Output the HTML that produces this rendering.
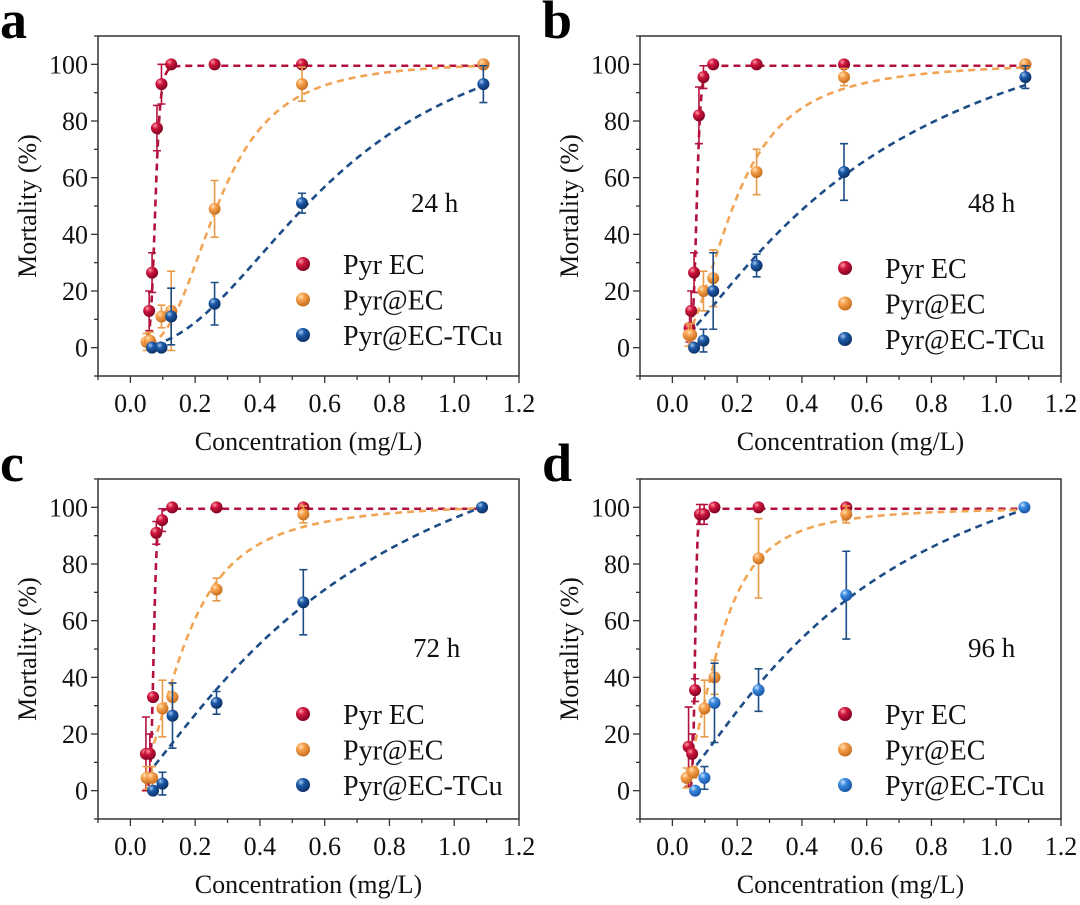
<!DOCTYPE html>
<html><head><meta charset="utf-8">
<style>
html,body{margin:0;padding:0;background:#fff;}
svg{display:block;}
svg text{font-family:"Times New Roman","Liberation Serif","DejaVu Serif","Noto Serif CJK SC",serif;}
</style></head>
<body>
<svg id="fig" width="1080" height="905" viewBox="0 0 1080 905" xmlns="http://www.w3.org/2000/svg">
<defs>
<radialGradient id="g-red" cx="0.35" cy="0.3" r="0.75"><stop offset="0" stop-color="#ff9aa8"/><stop offset="0.35" stop-color="#d0163e"/><stop offset="1" stop-color="#7a0020"/></radialGradient>
<radialGradient id="g-orange" cx="0.35" cy="0.3" r="0.75"><stop offset="0" stop-color="#ffe2b8"/><stop offset="0.35" stop-color="#f7a04c"/><stop offset="1" stop-color="#c06a1c"/></radialGradient>
<radialGradient id="g-blue" cx="0.35" cy="0.3" r="0.75"><stop offset="0" stop-color="#a8c8f0"/><stop offset="0.35" stop-color="#1d5aa8"/><stop offset="1" stop-color="#0a2c60"/></radialGradient>
<radialGradient id="g-lblue" cx="0.35" cy="0.3" r="0.75"><stop offset="0" stop-color="#d0e6ff"/><stop offset="0.35" stop-color="#3a8ae0"/><stop offset="1" stop-color="#1450a0"/></radialGradient>
</defs>
</svg>
<script>
// ---- data ----
const xTicks = [0.0,0.2,0.4,0.6,0.8,1.0,1.2];
const xTickLabels = ["0.0","0.2","0.4","0.6","0.8","1.0","1.2"];
const yTicks = [0,20,40,60,80,100];
const yTickLabels = ["0","20","40","60","80","100"];
const seriesNames = ["Pyr EC","Pyr@EC","Pyr@EC-TCu"];
const timeLabels = ["24 h","48 h","72 h","96 h"];
const panelLetters = ["a","b","c","d"];

// panel a (24 h)
const aRedX = [0.058,0.067,0.082,0.096,0.126,0.26,0.53,1.09];
const aRedY = [13,26.5,77.5,93,100,100,100,100];
const aRedE = [7,7,8,7,0,0,0,0];
const aOrgX = [0.05,0.06,0.096,0.126,0.26,0.53,1.09];
const aOrgY = [2,2.5,11,13,49,93,100];
const aOrgE = [3,3,4,14,10,6,0];
const aBluX = [0.067,0.096,0.126,0.26,0.53,1.09];
const aBluY = [0,0,11,15.5,51,93];
const aBluE = [0,0,10,7.5,3.5,6.5];
// panel b (48 h)
const bRedX = [0.053,0.058,0.067,0.082,0.096,0.126,0.26,0.53,1.09];
const bRedY = [7,13,26.5,82,95.5,100,100,100,100];
const bRedE = [5,7,7,10,4,0,0,0,0];
const bOrgX = [0.05,0.058,0.096,0.126,0.26,0.53,1.09];
const bOrgY = [4.5,4.5,20,24.5,62,95.5,100];
const bOrgE = [4,4,7,10,8,3,0];
const bBluX = [0.067,0.096,0.126,0.26,0.53,1.09];
const bBluY = [0,2.5,20,29,62,95.5];
const bBluE = [0,4,13.5,4,10,4];
// panel c (72 h)
const cRedX = [0.048,0.06,0.07,0.08,0.098,0.129,0.266,0.534];
const cRedY = [13,13,33,91,95.5,100,100,100];
const cRedE = [13,7,0,4,4,0,0,0];
const cOrgX = [0.05,0.067,0.099,0.13,0.266,0.534,1.086];
const cOrgY = [4.5,4.5,29,33,71,97.5,100];
const cOrgE = [4,4,10,5,4,3,0];
const cBluX = [0.07,0.099,0.13,0.266,0.534,1.086];
const cBluY = [0,2.5,26.5,31,66.5,100];
const cBluE = [0,4,11.5,4,11.5,0];
// panel d (96 h)
const dRedX = [0.05,0.061,0.07,0.085,0.098,0.13,0.266,0.537];
const dRedY = [15.5,13,35.5,97.5,97.5,100,100,100];
const dRedE = [14,7,4,3.5,3.5,0,0,0];
const dOrgX = [0.044,0.065,0.099,0.13,0.266,0.537];
const dOrgY = [4.5,6.5,29,40,82,97.5];
const dOrgE = [3.5,2,10,6,14,3];
const dBluX = [0.07,0.099,0.13,0.266,0.537,1.087];
const dBluY = [0,4.5,31,35.5,69,100];
const dBluE = [0,4,14,7.5,15.5,0];

// fitted dose-response parameters [EC50, Hill slope, top]
const aFits = [[0.077,10,99.5],[0.27,3,101],[0.63,2.2,120]];
const bFits = [[0.075,12,99.5],[0.19,2.2,101],[0.65,1.3,140]];
const cFits = [[0.072,15,99.5],[0.165,2,102],[0.72,1.25,160]];
const dFits = [[0.07,20,99.5],[0.14,2.3,100],[0.6,1.3,145]];
const fitStart = [0.055,0.062,0.075];

// ---- drawing ----
const NS="http://www.w3.org/2000/svg";
const svg=document.getElementById('fig');
function mk(tag,attrs,parent){const e=document.createElementNS(NS,tag);for(const k in attrs)e.setAttribute(k,attrs[k]);(parent||svg).appendChild(e);return e;}

const panels=[
 {L:98,R:519,T:36,B:376,tx:411,lx:303,ly:264,data:[[aRedX,aRedY,aRedE],[aOrgX,aOrgY,aOrgE],[aBluX,aBluY,aBluE]],fits:aFits,blue:'g-blue'},
 {L:640,R:1061,T:36,B:376,tx:968,lx:845,ly:268,data:[[bRedX,bRedY,bRedE],[bOrgX,bOrgY,bOrgE],[bBluX,bBluY,bBluE]],fits:bFits,blue:'g-blue'},
 {L:98,R:519,T:479,B:819,tx:413,lx:303,ly:714,data:[[cRedX,cRedY,cRedE],[cOrgX,cOrgY,cOrgE],[cBluX,cBluY,cBluE]],fits:cFits,blue:'g-blue'},
 {L:640,R:1061,T:479,B:819,tx:968,lx:845,ly:714,data:[[dRedX,dRedY,dRedE],[dOrgX,dOrgY,dOrgE],[dBluX,dBluY,dBluE]],fits:dFits,blue:'g-lblue'}
];
const lineCols=['#b3123e','#f2a455','#1d4c86'];
const errCols=['#b3123e','#e89a48','#1d4c86'];

panels.forEach((p,pi)=>{
  const g=mk('g',{});
  
  
  const sx=v=>p.L+(v+0.1)/1.3*(p.R-p.L);
  const sy=v=>p.B-(v+10)/120*(p.B-p.T);
  const let_=mk('text',{x:p.L-98,y:p.T+2,'font-size':54,'font-weight':'bold'},g);
  let_.textContent=panelLetters[pi];
  
  
  const fr=mk('rect',{x:p.L,y:p.T,width:p.R-p.L,height:p.B-p.T,fill:'none',stroke:'#333',"stroke-width":1.5},g);
  
  
  for(let v=-10;v<=110;v+=10){
    const major=v%20===0&&v>=0&&v<=100;
    mk('line',{x1:p.L,x2:p.L-(major?7:4),y1:sy(v),y2:sy(v),stroke:'#333','stroke-width':1.3},g);
  }
  yTicks.forEach((v,i)=>{
    const t=mk('text',{x:p.L-10,y:sy(v)+9,'font-size':26,'text-anchor':'end',fill:'#111'},g);
    t.textContent=yTickLabels[i];
    
    
  });
  for(let k=-1;k<=12;k++){
    const v=k/10, major=k>=0&&k%2===0;
    mk('line',{x1:sx(v),x2:sx(v),y1:p.B,y2:p.B+(major?7:4),stroke:'#333','stroke-width':1.3},g);
  }
  xTicks.forEach((v,i)=>{
    const t=mk('text',{x:sx(v),y:p.B+36,'font-size':26,'text-anchor':'middle',fill:'#111'},g);
    t.textContent=xTickLabels[i];
    
    
  });
  const yt=mk('text',{x:0,y:0,'font-size':26,'text-anchor':'middle',fill:'#111',transform:`translate(${p.L-62},${(p.T+p.B)/2}) rotate(-90)`},g);
  yt.textContent='Mortality (%)';
  
  
  const xt=mk('text',{x:(p.L+p.R)/2,y:p.B+74,'font-size':26,'text-anchor':'middle',fill:'#111'},g);
  xt.textContent='Concentration (mg/L)';
  
  
  const tl=mk('text',{x:p.tx,y:(pi<2?212:p.T+178),'font-size':27,fill:'#111'},g);
  tl.textContent=timeLabels[pi];
  
  
  p.fits.forEach((f,si)=>{
    const [ec,h,top]=f;let d='';
    const x0=fitStart[si],x1=1.09;
    for(let i=0;i<=300;i++){
      const x=x0+(x1-x0)*Math.pow(i/300,2.2);
      const y=top/(1+Math.pow(ec/x,h));
      d+=(i?'L':'M')+sx(x).toFixed(2)+','+sy(y).toFixed(2);
    }
    const c=mk('path',{d:d,fill:'none',stroke:lineCols[si],'stroke-width':2.6,'stroke-dasharray':'7 5'},g);
    
    
  });
  const grads=['g-red','g-orange',p.blue];
  p.data.forEach((s,si)=>{
    const [xs,ys,es]=s;
    xs.forEach((x,i)=>{
      const cx=sx(x),cy=sy(ys[i]);
      if(es[i]>0){
        const e1=sy(ys[i]+es[i]),e2=sy(ys[i]-es[i]);
        const eb=mk('path',{d:`M${cx},${e1}V${e2}M${cx-4},${e1}H${cx+4}M${cx-4},${e2}H${cx+4}`,stroke:errCols[si],'stroke-width':1.6,fill:'none'},g);
        
        
      }
      const m=mk('circle',{cx:cx,cy:cy,r:6,fill:`url(#${grads[si]})`},g);
      
      
    });
  });
  seriesNames.forEach((n,si)=>{
    const yy=p.ly+si*35.5;
    const lm=mk('circle',{cx:p.lx,cy:yy,r:7,fill:`url(#${grads[si]})`},g);
    
    
    const lt=mk('text',{x:p.lx+40,y:yy+10,'font-size':28,fill:'#111'},g);
    lt.textContent=n;
    
    
  });
});
</script>
</body></html>
